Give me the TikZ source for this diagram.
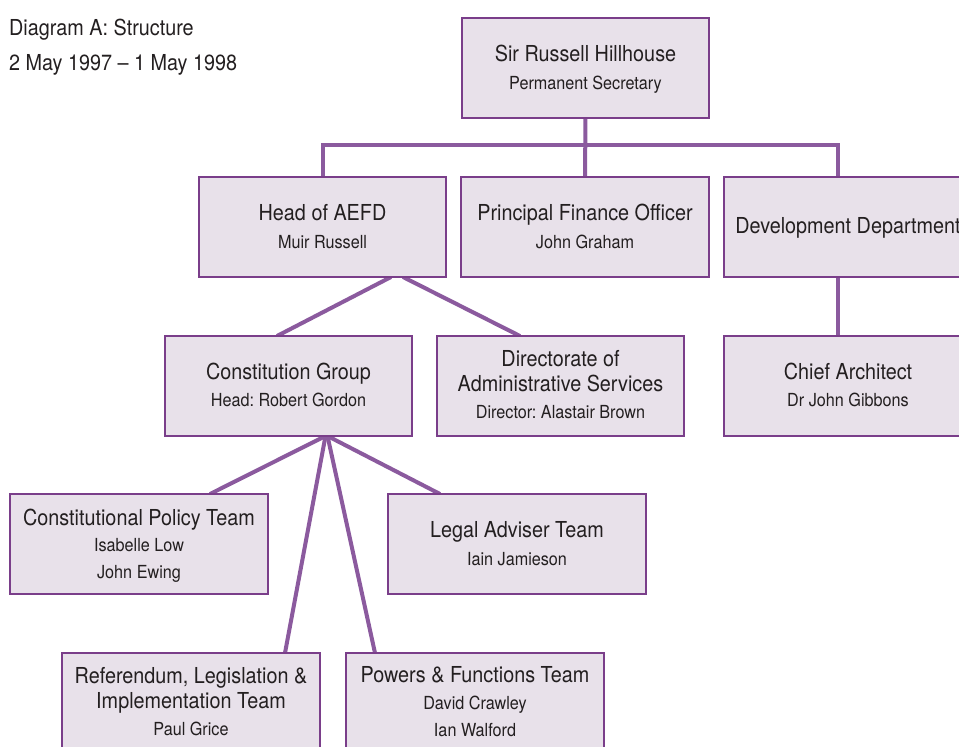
\documentclass[tikz,border=0pt]{standalone}
\usepackage{fontspec}
\setmainfont{TeX Gyre Heros}[FakeStretch=0.9]
\frenchspacing
\definecolor{boxfill}{HTML}{E8E1EA}
\definecolor{boxline}{HTML}{7A3E8A}
\definecolor{conn}{HTML}{8B5A9E}
\definecolor{txt}{HTML}{231F20}
\pgfdeclarelayer{bg}
\pgfsetlayers{bg,main}
\tikzset{
  orgbox/.style={draw=boxline, line width=2.2pt, fill=boxfill, inner sep=0pt, outer sep=0pt, anchor=north west, minimum width=#1, minimum height=100pt},
  link/.style={draw=conn, line width=4pt},
  big/.style={font=\fontsize{22}{26}\selectfont\frenchspacing, text=txt, anchor=base, inner sep=0pt},
  small/.style={font=\fontsize{18}{22}\selectfont\frenchspacing, text=txt, anchor=base, inner sep=0pt},
}
\begin{document}
\begin{tikzpicture}[x=1pt, y=-1pt]
\useasboundingbox (0,0) rectangle (959,747);
\clip (0,0) rectangle (959,747);

% title
\node[big, anchor=base west] (title1) at (9,35) {Diagram A: Structure};
\node[big, anchor=base west] (title2) at (9,70) {2 May 1997 -- 1 May 1998};

% boxes
\node[orgbox=247pt] (top) at (462,18) {};
\node[orgbox=247pt] (aefd) at (199,177) {};
\node[orgbox=248pt] (pfo) at (461,177) {};
\node[orgbox=248pt] (dev) at (724,177) {};
\node[orgbox=247pt] (cg) at (165,336) {};
\node[orgbox=247pt] (dir) at (437,336) {};
\node[orgbox=248pt] (chief) at (724,336) {};
\node[orgbox=258pt] (cpt) at (10,494) {};
\node[orgbox=258pt] (legal) at (388,494) {};
\node[orgbox=258pt] (ref) at (62,653) {};
\node[orgbox=258pt] (pow) at (346,653) {};

% texts
\node[big] (topA) at (585.5,61) {Sir Russell Hillhouse};
\node[small] (topB) at (585.5,89) {Permanent Secretary};
\node[big] (aefdA) at (322.5,220) {Head of AEFD};
\node[small] (aefdB) at (322.5,248) {Muir Russell};
\node[big] (pfoA) at (585,220) {Principal Finance Officer};
\node[small] (pfoB) at (585,248) {John Graham};
\node[big] (devA) at (848,233) {Development Department};
\node[big] (cgA) at (288.5,379) {Constitution Group};
\node[small] (cgB) at (288.5,406) {Head: Robert Gordon};
\node[big] (dirA) at (560.5,366) {Directorate of};
\node[big] (dirB) at (560.5,391) {Administrative Services};
\node[small] (dirC) at (560.5,418) {Director: Alastair Brown};
\node[big] (chiefA) at (848,379) {Chief Architect};
\node[small] (chiefB) at (848,406) {Dr John Gibbons};
\node[big] (cptA) at (139,525) {Constitutional Policy Team};
\node[small] (cptB) at (139,551) {Isabelle Low};
\node[small] (cptC) at (139,578) {John Ewing};
\node[big] (legalA) at (517,537) {Legal Adviser Team};
\node[small] (legalB) at (517,565) {Iain Jamieson};
\node[big] (refA) at (191,683) {Referendum, Legislation \&};
\node[big] (refB) at (191,708) {Implementation Team};
\node[small] (refC) at (191,735) {Paul Grice};
\node[big] (powA) at (475,682) {Powers \& Functions Team};
\node[small] (powB) at (475,709) {David Crawley};
\node[small] (powC) at (475,736) {Ian Walford};

% connectors
\begin{pgfonlayer}{bg}
\coordinate (bus) at (585,145);
\draw[link] (top.south) -- (pfo.north);
\draw[link] (aefd.north) |- (bus) -| ([xshift=-10pt]dev.north);
\draw[link] ([xshift=-10pt]dev.south) -- ([xshift=-10pt]chief.north);
\draw[link] ([xshift=68.5pt]aefd.south) -- ([xshift=-11.5pt]cg.north);
\draw[link] ([xshift=80.5pt]aefd.south) -- ([xshift=-40.5pt]dir.north);
\draw[link] ([xshift=37pt]cg.south) -- ([xshift=71pt]cpt.north);
\draw[link] ([xshift=37pt]cg.south) -- ([xshift=94pt]ref.north);
\draw[link] ([xshift=39pt]cg.south) -- ([xshift=-100pt]pow.north);
\draw[link] ([xshift=39pt]cg.south) -- ([xshift=-77pt]legal.north);
\end{pgfonlayer}
\end{tikzpicture}
\end{document}
